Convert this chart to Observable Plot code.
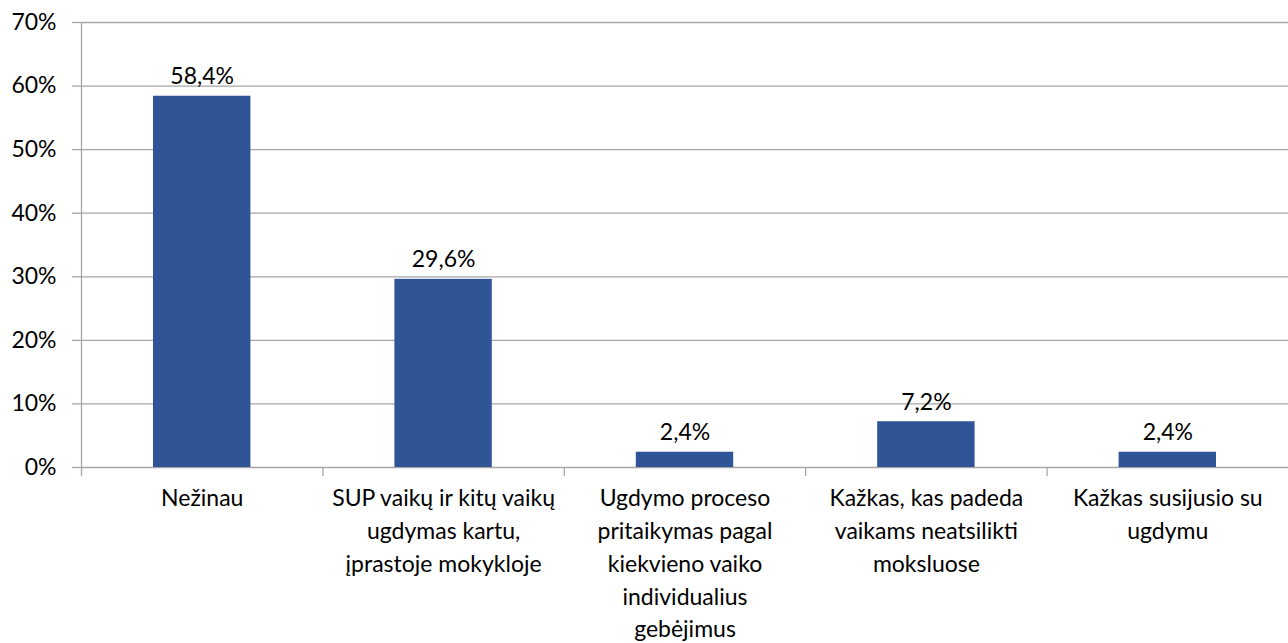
<!DOCTYPE html>
<html>
<head>
<meta charset="utf-8">
<script src="https://cdn.jsdelivr.net/npm/d3@7"></script>
<script src="https://cdn.jsdelivr.net/npm/@observablehq/plot@0.6"></script>
<style>
  html, body { margin: 0; padding: 0; background: #fff; }
  #chart svg { display: block; }
</style>
</head>
<body>
<div id="chart"></div>
<script>
const categories = [
  "Nežinau",
  "SUP vaikų ir kitų vaikų\nugdymas kartu,\nįprastoje mokykloje",
  "Ugdymo proceso\npritaikymas pagal\nkiekvieno vaiko\nindividualius\ngebėjimus",
  "Kažkas, kas padeda\nvaikams neatsilikti\nmoksluose",
  "Kažkas susijusio su\nugdymu"
];
const values = [58.4, 29.6, 2.4, 7.2, 2.4];
const valueLabels = ["58,4%", "29,6%", "2,4%", "7,2%", "2,4%"];
const yTicks = [0, 10, 20, 30, 40, 50, 60, 70];

const data = categories.map((c, i) => ({i, category: c, value: values[i], label: valueLabels[i]}));
const boundaries = d3.range(categories.length);

const font = "Lato, 'Open Sans', sans-serif";
const grid = "#a6a6a6";
const fs = 23;

const chart = Plot.plot({
  width: 1288,
  height: 643,
  marginLeft: 81,
  marginRight: 0,
  marginTop: 22,
  marginBottom: 176,
  style: {fontFamily: font, fontSize: fs + "px", color: "#000", background: "#fff"},
  x: {domain: [0, categories.length], axis: null},
  y: {domain: [0, 70], axis: null},
  marks: [
    Plot.ruleY(yTicks, {stroke: grid, strokeWidth: 1.3}),
    Plot.ruleX([0], {y1: 0, y2: 70, stroke: grid, strokeWidth: 1.3}),
    Plot.axisY({ticks: yTicks, tickFormat: d => d + "%", tickSize: 9, tickPadding: 16, stroke: grid, strokeWidth: 1.3, fontSize: fs, label: null, fill: "#000"}),
    Plot.axisX({ticks: boundaries, tickFormat: () => "", tickSize: 9, stroke: grid, strokeWidth: 1.3, label: null}),
    Plot.rectY(data, {x1: "i", x2: d => d.i + 1, y: "value", insetLeft: 72, insetRight: 72, fill: "#2f5597"}),
    Plot.text(data, {x: d => d.i + 0.5, y: "value", text: "label", lineAnchor: "bottom", dy: -12, fontSize: fs, fill: "#000"}),
    Plot.text(data, {x: d => d.i + 0.5, y: 0, text: "category", lineAnchor: "top", dy: 15, lineHeight: 1.43, fontSize: fs, fill: "#000"})
  ]
});
document.getElementById("chart").appendChild(chart);
</script>
</body>
</html>
